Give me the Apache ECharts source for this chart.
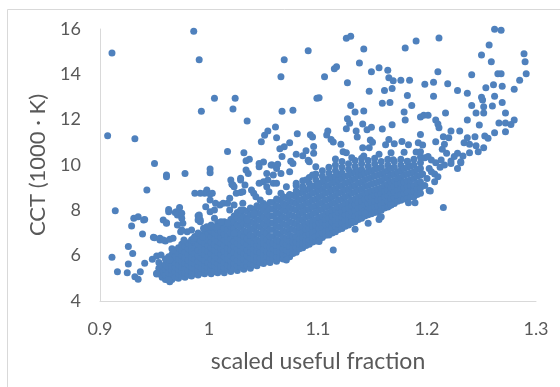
<!DOCTYPE html>
<html>
<head>
<meta charset="utf-8">
<script src="https://cdn.jsdelivr.net/npm/echarts@6/dist/echarts.min.js"></script>
<style>
  html, body { margin: 0; padding: 0; background: #ffffff; }
  #chart { width: 560px; height: 387px; }
</style>
</head>
<body>
<div id="chart"></div>
<script>
// Axis settings
const xTicks = [0.9, 1.0, 1.1, 1.2, 1.3];
const yTicks = [4, 6, 8, 10, 12, 14, 16];
const xTitle = 'scaled useful fraction';
const yTitle = 'CCT (1000 \u00b7 K)';

// Scattered samples, low useful fraction side: [scaled useful fraction, CCT / 1000 K]
const lowSide = [
  [0.986,15.90],[0.911,14.94],[0.991,14.64],[0.993,12.37],[0.907,11.29],[0.932,11.16],[0.950,10.07],
  [0.961,9.56],[0.961,9.48],[0.978,9.63],[0.943,8.90],[0.914,7.98],[0.931,7.65],[0.935,7.72],[0.940,7.57],
  [0.929,7.31],[0.939,6.96],[0.963,8.04],[0.969,7.90],[0.973,8.12],[0.958,7.57],[0.961,7.45],[0.971,7.35],
  [0.975,7.65],[0.949,6.81],[0.955,6.69],[0.960,6.65],[0.964,6.72],[0.926,6.40],[0.930,6.10],[0.911,5.93],
  [0.941,5.66],[0.948,5.84],[0.952,5.99],[0.956,6.03],[0.916,5.29],[0.925,5.25],[0.926,5.63],[0.932,5.07],
  [0.935,4.96],[0.937,5.29],[0.952,5.19],[0.964,4.85],[0.992,7.57],[0.990,7.76],[0.998,8.90],[0.996,8.75],
  [1.001,7.94],[1.001,9.82],[1.001,9.66],[1.001,8.72],[1.020,9.34],[1.021,9.15],[1.029,9.34],[1.029,8.79],
  [1.046,9.92],[1.053,9.63],[1.059,9.56],[0.941,7.60],[0.950,6.79],[0.955,6.77],[0.958,6.69],[0.961,7.43],
  [0.963,7.94],[0.970,7.94],[0.971,7.79],[0.976,7.43],[0.975,7.87],[0.967,6.25],[0.964,5.81],[0.952,5.22],
  [0.963,4.93],[0.987,8.75],[0.997,8.16],[0.991,7.72],[0.992,7.50],[0.986,6.69],[0.995,7.21],[1.010,8.23],
  [1.017,8.31],[1.023,8.23],[1.029,8.01],[1.007,7.28],[1.017,7.43],[1.023,6.99],[1.035,7.57],[1.041,7.87],
  [1.047,8.46],[1.053,9.04],[1.059,9.19],[1.033,9.12],[1.023,9.04],[1.041,8.75],[1.050,9.26],
  [0.992,8.75],[1.001,8.46],[0.991,7.79],[0.990,7.57],[0.998,7.28],[0.984,7.13],[0.980,7.06],[0.974,7.06],
  [0.967,6.77],[0.977,6.69],[0.986,6.77],[0.994,6.84],[0.975,7.13]
];

// Scattered samples above the main cloud, middle range
const middleBand = [
  [1.003,8.75],[1.022,9.12],[1.029,9.41],[1.034,9.78],[1.036,9.63],[1.046,10.07],[1.057,10.00],[1.062,9.85],
  [1.066,9.63],[1.074,9.70],[1.077,10.07],[1.092,10.14],[1.095,9.56],[1.089,9.34],[1.080,9.19],[1.071,9.04],
  [1.062,9.19],[1.054,9.34],[1.046,9.19],[1.039,8.90],[1.031,8.82],[1.025,8.75],[1.019,8.53],[1.013,8.31],
  [1.006,8.31],[1.005,8.01],[1.005,7.65],[1.011,7.50],[1.002,7.28],[1.019,8.01],[1.031,8.31],[1.043,8.60],
  [1.055,8.82],[1.066,8.75],[1.074,8.68],[1.086,8.97],[1.100,9.12],[1.098,9.92],
  [1.091,15.04],[1.069,14.64],[1.066,13.89],[1.005,12.95],[1.024,12.95],[1.022,12.47],[1.067,12.37],[1.077,12.41],
  [1.099,12.95],[1.035,11.94],[1.061,11.68],[1.054,11.50],[1.051,11.31],[1.081,11.38],[1.093,11.34],[1.095,11.23],
  [1.062,11.20],[1.048,11.03],[1.074,10.98],[1.069,10.81],[1.065,10.72],[1.096,10.82],[1.017,10.60],[1.032,10.54],
  [1.067,10.38],[1.080,10.47],[1.089,10.63],[1.086,10.41],[1.096,10.52],[1.037,10.25],[1.034,10.19],[1.050,10.13],
  [1.075,10.16],[1.091,10.21],[1.058,10.00],[1.063,10.03]
];

// Scattered samples, high useful fraction side
const highSide = [
  [1.126,15.59],[1.130,15.68],[1.190,15.47],[1.180,15.16],[1.142,15.12],[1.138,14.50],[1.115,14.25],[1.117,14.34],
  [1.106,13.89],[1.149,14.11],[1.156,14.29],[1.164,14.18],[1.165,13.85],[1.169,13.72],[1.176,13.74],[1.184,13.74],
  [1.198,13.56],[1.127,13.63],[1.147,13.25],[1.161,13.29],[1.168,13.38],[1.182,13.07],[1.101,12.97],[1.130,12.63],
  [1.159,12.72],[1.166,12.76],[1.186,12.63],[1.134,12.34],[1.142,12.38],[1.179,12.34],[1.194,12.12],[1.197,12.19],
  [1.180,11.98],[1.127,12.04],[1.129,11.84],[1.141,11.81],[1.149,11.66],[1.168,11.78],[1.126,11.60],[1.145,11.56],
  [1.159,11.59],[1.135,11.50],[1.109,11.50],[1.108,11.32],[1.112,11.13],[1.114,11.01],[1.121,10.91],[1.136,11.23],
  [1.148,11.10],[1.150,11.00],[1.165,11.13],[1.170,10.94],[1.177,11.04],[1.183,10.89],[1.192,10.98],[1.194,11.35],
  [1.141,10.76],[1.147,10.76],[1.162,10.89],[1.196,10.88],[1.156,10.47],[1.167,10.54],[1.123,10.59],[1.126,10.54],
  [1.179,10.56],[1.190,10.57],[1.194,10.59],[1.116,10.26],[1.131,10.32],[1.142,10.40],[1.169,10.23],[1.182,10.16],
  [1.198,10.32],
  [1.262,15.99],[1.268,15.94],[1.211,15.60],[1.257,15.29],[1.289,14.91],[1.290,14.56],[1.250,14.85],[1.259,14.56],
  [1.210,14.11],[1.241,13.98],[1.265,14.03],[1.268,14.03],[1.291,14.03],[1.285,13.74],[1.280,13.34],[1.206,13.65],
  [1.219,13.59],[1.228,13.29],[1.237,13.16],[1.254,13.41],[1.261,13.54],[1.269,13.47],[1.206,13.03],[1.250,12.99],
  [1.251,12.87],[1.262,13.03],[1.269,12.76],[1.241,12.63],[1.252,12.57],[1.260,12.60],[1.201,12.20],[1.217,12.29],
  [1.245,12.29],[1.252,12.29],[1.272,12.29],[1.237,11.98],[1.208,11.98],[1.210,11.81],[1.211,11.64],[1.248,11.76],
  [1.266,11.85],[1.272,11.85],[1.277,11.79],[1.280,11.98],[1.222,11.50],[1.230,11.50],[1.215,11.25],[1.220,11.20],
  [1.244,11.25],[1.253,11.28],[1.256,11.18],[1.262,11.42],[1.272,11.47],[1.208,11.03],[1.216,10.91],[1.234,10.98],
  [1.237,11.20],[1.239,10.91],[1.245,10.85],[1.252,10.76],[1.247,10.59],[1.214,10.70],[1.218,10.52],[1.228,10.52],
  [1.233,10.40],[1.239,10.54],[1.201,10.37],[1.204,10.22],[1.213,10.22],[1.222,10.18],[1.231,10.14],[1.225,10.37],
  [1.231,10.10],[1.228,9.85],[1.222,10.07],[1.207,9.60],[1.210,9.48],[1.207,9.26],[1.203,8.85],[1.215,8.12],
  [1.202,9.85],[1.198,9.10],[1.200,9.40],[1.204,9.70],[1.212,9.90],[1.216,10.00],[1.208,10.10],[1.196,9.60],
  [1.114,6.25],[1.134,7.16],[1.131,7.50],[1.146,7.43],[1.157,7.69],[1.165,8.19],[1.183,8.34],[1.189,8.34],
  [1.202,8.87],[1.110,6.91],[1.101,6.62],[1.143,7.87],[1.167,8.23],[1.158,7.72],[1.156,7.60],[1.071,5.81]
];

// Main cloud, listed column by column: [scaled useful fraction, [CCT values]]
const coreColumns = [
  [0.954, [5.20, 5.45, 5.70]],
  [0.957, [5.05, 5.30, 5.55]],
  [0.960, [4.95, 5.15, 5.40, 5.60, 5.85]],
  [0.963, [5.05, 5.25, 5.50, 5.70, 5.95]],
  [0.966, [4.95, 5.15, 5.35, 5.55, 5.80, 6.05, 6.30]],
  [0.969, [5.05, 5.30, 5.50, 5.70, 5.95, 6.20]],
  [0.972, [5.00, 5.20, 5.40, 5.60, 5.85, 6.10, 6.35]],
  [0.975, [5.10, 5.30, 5.50, 5.75, 6.00, 6.25, 6.50]],
  [0.978, [5.05, 5.25, 5.45, 5.65, 5.90, 6.15, 6.40, 6.60]],
  [0.981, [5.15, 5.35, 5.60, 5.80, 6.05, 6.30, 6.55]],
  [0.984, [5.10, 5.30, 5.50, 5.70, 5.95, 6.20, 6.45, 6.70]],
  [0.987, [5.20, 5.45, 5.65, 5.85, 6.10, 6.35, 6.60, 6.85]],
  [0.990, [5.15, 5.35, 5.55, 5.75, 6.00, 6.25, 6.50, 6.75, 7.00]],
  [0.993, [5.25, 5.45, 5.70, 5.90, 6.15, 6.40, 6.65, 6.90]],
  [0.996, [5.20, 5.40, 5.60, 5.80, 6.05, 6.30, 6.55, 6.80, 7.05]],
  [0.999, [5.30, 5.50, 5.70, 5.95, 6.20, 6.45, 6.70, 6.95, 7.20]],
  [1.002, [5.20, 5.40, 5.60, 5.85, 6.10, 6.35, 6.60, 6.85, 7.10, 7.35]],
  [1.005, [5.30, 5.55, 5.75, 6.00, 6.25, 6.50, 6.75, 7.00, 7.25]],
  [1.008, [5.25, 5.45, 5.65, 5.90, 6.15, 6.40, 6.65, 6.90, 7.15, 7.45]],
  [1.011, [5.35, 5.55, 5.80, 6.05, 6.30, 6.55, 6.80, 7.05, 7.30]],
  [1.014, [5.25, 5.45, 5.70, 5.95, 6.20, 6.45, 6.70, 6.95, 7.20, 7.50]],
  [1.017, [5.40, 5.60, 5.85, 6.10, 6.35, 6.60, 6.85, 7.15, 7.45]],
  [1.020, [5.30, 5.50, 5.75, 6.00, 6.25, 6.50, 6.75, 7.00, 7.30, 7.60]],
  [1.023, [5.45, 5.65, 5.90, 6.15, 6.40, 6.65, 6.90, 7.20, 7.50, 7.75]],
  [1.026, [5.35, 5.55, 5.80, 6.05, 6.30, 6.55, 6.80, 7.05, 7.35, 7.65, 7.90]],
  [1.029, [5.50, 5.70, 5.95, 6.20, 6.45, 6.70, 6.95, 7.25, 7.55, 7.85]],
  [1.032, [5.40, 5.60, 5.85, 6.10, 6.35, 6.60, 6.85, 7.10, 7.40, 7.70, 8.00]],
  [1.035, [5.55, 5.75, 6.00, 6.25, 6.50, 6.75, 7.05, 7.35, 7.65, 7.95]],
  [1.038, [5.45, 5.65, 5.90, 6.15, 6.40, 6.65, 6.90, 7.20, 7.50, 7.80, 8.10]],
  [1.041, [5.60, 5.85, 6.05, 6.30, 6.55, 6.85, 7.15, 7.45, 7.75, 8.05]],
  [1.044, [5.55, 5.75, 5.95, 6.20, 6.45, 6.70, 7.00, 7.30, 7.60, 7.90, 8.20]],
  [1.047, [5.70, 5.90, 6.15, 6.40, 6.65, 6.95, 7.25, 7.55, 7.85, 8.15]],
  [1.050, [5.65, 5.85, 6.05, 6.30, 6.55, 6.80, 7.10, 7.40, 7.70, 8.00, 8.30]],
  [1.053, [5.75, 5.95, 6.20, 6.45, 6.70, 7.00, 7.30, 7.60, 7.90, 8.20]],
  [1.056, [5.70, 5.90, 6.10, 6.35, 6.60, 6.85, 7.15, 7.45, 7.75, 8.05, 8.35]],
  [1.059, [5.85, 6.05, 6.30, 6.55, 6.85, 7.15, 7.45, 7.75, 8.05, 8.35]],
  [1.062, [5.75, 5.95, 6.20, 6.45, 6.70, 7.00, 7.30, 7.60, 7.90, 8.20, 8.50]],
  [1.065, [5.90, 6.15, 6.40, 6.65, 6.95, 7.25, 7.55, 7.85, 8.15, 8.45]],
  [1.068, [5.85, 6.05, 6.30, 6.55, 6.80, 7.10, 7.40, 7.70, 8.00, 8.30, 8.60]],
  [1.071, [6.00, 6.25, 6.50, 6.75, 7.05, 7.35, 7.65, 7.95, 8.25, 8.55]],
  [1.074, [5.95, 6.15, 6.40, 6.65, 6.90, 7.20, 7.50, 7.80, 8.10, 8.40, 8.70]],
  [1.077, [6.10, 6.35, 6.60, 6.85, 7.15, 7.45, 7.75, 8.05, 8.35, 8.65]],
  [1.080, [6.15, 6.35, 6.60, 6.85, 7.10, 7.40, 7.70, 8.00, 8.30, 8.60, 8.85, 9.10]],
  [1.083, [6.30, 6.50, 6.75, 7.00, 7.25, 7.55, 7.85, 8.15, 8.45, 8.75]],
  [1.086, [6.35, 6.55, 6.80, 7.05, 7.30, 7.60, 7.90, 8.20, 8.50, 8.80, 9.05, 9.30]],
  [1.089, [6.45, 6.65, 6.90, 7.15, 7.40, 7.70, 8.00, 8.30, 8.60, 8.90]],
  [1.092, [6.50, 6.70, 6.95, 7.20, 7.45, 7.75, 8.05, 8.35, 8.65, 8.95, 9.20, 9.45]],
  [1.095, [6.60, 6.80, 7.05, 7.30, 7.55, 7.85, 8.15, 8.45, 8.75, 9.05]],
  [1.098, [6.65, 6.85, 7.10, 7.35, 7.60, 7.90, 8.20, 8.50, 8.80, 9.10, 9.35, 9.60]],
  [1.101, [6.75, 6.95, 7.20, 7.45, 7.70, 8.00, 8.30, 8.60, 8.90, 9.20]],
  [1.104, [6.80, 7.00, 7.25, 7.50, 7.75, 8.05, 8.35, 8.65, 8.95, 9.25, 9.50, 9.75]],
  [1.107, [6.90, 7.10, 7.35, 7.60, 7.85, 8.15, 8.45, 8.75, 9.05, 9.35]],
  [1.110, [6.95, 7.15, 7.40, 7.65, 7.90, 8.20, 8.50, 8.80, 9.10, 9.40, 9.65, 9.90]],
  [1.113, [7.00, 7.25, 7.50, 7.75, 8.00, 8.30, 8.60, 8.90, 9.20, 9.45]],
  [1.116, [7.05, 7.30, 7.55, 7.80, 8.05, 8.35, 8.65, 8.95, 9.25, 9.50, 9.75, 10.00]],
  [1.119, [7.15, 7.40, 7.65, 7.90, 8.15, 8.45, 8.75, 9.05, 9.35, 9.60]],
  [1.122, [7.20, 7.45, 7.70, 7.95, 8.20, 8.50, 8.80, 9.10, 9.40, 9.65, 9.90, 10.15]],
  [1.125, [7.30, 7.55, 7.80, 8.05, 8.30, 8.60, 8.90, 9.20, 9.50]],
  [1.128, [7.35, 7.60, 7.85, 8.10, 8.35, 8.65, 8.95, 9.25, 9.55, 9.80, 10.05]],
  [1.131, [7.45, 7.70, 7.95, 8.20, 8.45, 8.75, 9.05, 9.35, 9.65]],
  [1.134, [7.50, 7.75, 8.00, 8.25, 8.50, 8.80, 9.10, 9.40, 9.70, 9.95, 10.20]],
  [1.137, [7.60, 7.85, 8.10, 8.35, 8.60, 8.90, 9.20, 9.50, 9.75]],
  [1.140, [7.65, 7.90, 8.15, 8.40, 8.65, 8.95, 9.25, 9.55, 9.80, 10.05, 10.30]],
  [1.143, [7.75, 8.00, 8.25, 8.50, 8.75, 9.05, 9.35, 9.65]],
  [1.146, [7.80, 8.05, 8.30, 8.55, 8.80, 9.10, 9.40, 9.70, 9.95, 10.20]],
  [1.149, [7.85, 8.10, 8.35, 8.60, 8.85, 9.15, 9.45, 9.75]],
  [1.152, [7.90, 8.15, 8.40, 8.65, 8.90, 9.20, 9.50, 9.80, 10.05, 10.30]],
  [1.155, [7.95, 8.20, 8.45, 8.70, 8.95, 9.25, 9.55, 9.85]],
  [1.158, [8.00, 8.25, 8.50, 8.75, 9.00, 9.30, 9.60, 9.90, 10.15]],
  [1.161, [8.10, 8.35, 8.60, 8.85, 9.10, 9.40, 9.70]],
  [1.164, [8.15, 8.40, 8.65, 8.90, 9.15, 9.45, 9.75, 10.00, 10.25]],
  [1.167, [8.25, 8.50, 8.75, 9.00, 9.25, 9.55, 9.85]],
  [1.170, [8.30, 8.55, 8.80, 9.05, 9.30, 9.60, 9.90, 10.15]],
  [1.173, [8.40, 8.65, 8.90, 9.15, 9.40, 9.70]],
  [1.176, [8.45, 8.70, 8.95, 9.20, 9.45, 9.75, 10.00, 10.25]],
  [1.179, [8.50, 8.75, 9.00, 9.25, 9.55, 9.85]],
  [1.182, [8.55, 8.80, 9.05, 9.30, 9.60, 9.90, 10.15]],
  [1.185, [8.60, 8.85, 9.10, 9.35, 9.65, 9.95]],
  [1.188, [8.60, 8.85, 9.10, 9.40, 9.70, 10.00, 10.25]],
  [1.191, [8.70, 8.95, 9.20, 9.50, 9.80]],
  [1.194, [8.75, 9.00, 9.25, 9.55, 9.85, 10.10, 10.35]]
];

const corePoints = [];
coreColumns.forEach(([x, ys]) => ys.forEach(y => corePoints.push([x, y])));
const allPoints = corePoints.concat(lowSide, middleBand, highSide);

const textColor = '#595959';
const lineColor = '#d9d9d9';
const font = 'Lato, "Open Sans", sans-serif';

const chart = echarts.init(document.getElementById('chart'), null, { renderer: 'canvas' });
chart.setOption({
  animation: false,
  backgroundColor: '#ffffff',
  graphic: [{
    type: 'rect',
    silent: true,
    z: -10,
    shape: { x: 7.5, y: 9.5, width: 620, height: 420 },
    style: { fill: 'none', stroke: lineColor, lineWidth: 1 }
  }],
  grid: { left: 100, right: 24, top: 29, bottom: 86, containLabel: false },
  xAxis: {
    type: 'value',
    min: xTicks[0],
    max: xTicks[xTicks.length - 1],
    interval: 0.1,
    name: xTitle,
    nameLocation: 'middle',
    nameGap: 49,
    nameTextStyle: { fontSize: 23, color: textColor, fontFamily: font },
    axisLine: { show: true, lineStyle: { color: lineColor, width: 1 } },
    axisTick: { show: false },
    splitLine: { show: false },
    axisLabel: {
      fontSize: 18, color: textColor, fontFamily: font, margin: 19,
      formatter: v => String(parseFloat(v.toFixed(1)))
    }
  },
  yAxis: {
    type: 'value',
    min: yTicks[0],
    max: yTicks[yTicks.length - 1],
    interval: 2,
    name: yTitle,
    nameLocation: 'middle',
    nameGap: 49,
    nameTextStyle: { fontSize: 22, color: textColor, fontFamily: font },
    axisLine: { show: true, lineStyle: { color: lineColor, width: 1 } },
    axisTick: { show: false },
    splitLine: { show: false },
    axisLabel: { fontSize: 18, color: textColor, fontFamily: font, margin: 19 }
  },
  series: [{
    type: 'scatter',
    symbol: 'circle',
    symbolSize: 7,
    itemStyle: { color: '#4f81bd', opacity: 1 },
    data: allPoints
  }]
});
</script>
</body>
</html>
